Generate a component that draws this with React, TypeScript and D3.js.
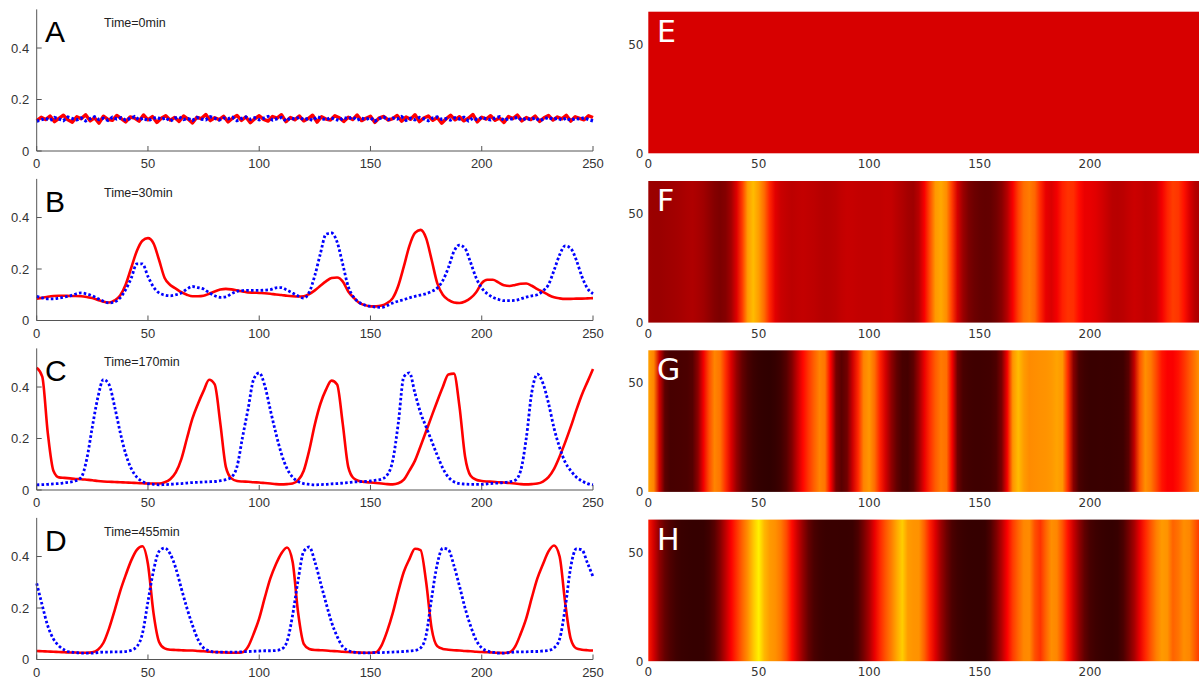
import React from 'react';
import * as d3 from 'd3';

// ---------- DATA ----------
const gridX = d3.range(0, 250.001, 2.5); // sample positions (101)
const noiseX = d3.range(0, 250.001, 2); // sample positions for t=0 (126)

const redA = [.118,.131,.122,.136,.114,.127,.139,.121,.112,.133,.125,.141,.117,.129,.108,.135,.123,.119,.138,.126,
.113,.132,.128,.116,.140,.121,.134,.111,.127,.137,.120,.130,.115,.136,.124,.109,.131,.126,.142,.118,
.129,.122,.135,.113,.127,.138,.119,.132,.110,.125,.137,.123,.116,.134,.128,.141,.114,.130,.121,.136,
.117,.126,.139,.112,.133,.124,.120,.137,.129,.115,.131,.122,.140,.118,.127,.135,.111,.129,.134,.120,
.126,.138,.116,.132,.123,.141,.114,.128,.136,.119,.130,.108,.125,.139,.121,.133,.117,.127,.142,.113,
.131,.124,.137,.119,.128,.111,.134,.126,.140,.117,.130,.122,.136,.115,.129,.138,.120,.132,.125,.139,
.116,.133,.127,.121,.137,.130];

const blueA = [.116,.121,.127,.119,.130,.124,.118,.132,.126,.121,.128,.117,.125,.133,.122,.127,.119,.131,.124,.129,
.120,.126,.134,.121,.128,.118,.125,.131,.123,.129,.116,.127,.132,.122,.126,.119,.130,.124,.121,.133,
.127,.120,.128,.125,.131,.118,.126,.132,.123,.129,.121,.127,.134,.120,.125,.130,.117,.128,.124,.131,
.122,.126,.119,.133,.127,.121,.129,.124,.118,.130,.125,.132,.120,.127,.123,.129,.116,.126,.131,.122,
.128,.124,.133,.119,.127,.121,.130,.125,.118,.128,.132,.123,.126,.120,.129,.124,.131,.117,.127,.122,
.130,.125,.121,.128,.133,.119,.126,.124,.131,.120,.127,.122,.129,.118,.125,.130,.123,.127,.121,.128,
.119,.126,.124,.129,.122,.117];

const redB = [.085,.088,.092,.095,.096,.096,.095,.095,.094,.091,.087,.080,.073,.070,.078,.097,.140,.205,.270,.310,
.320,.300,.235,.165,.138,.124,.110,.100,.094,.094,.096,.104,.113,.120,.123,.121,.117,.113,.109,.108,
.107,.106,.104,.101,.099,.096,.094,.093,.094,.103,.117,.135,.152,.165,.167,.152,.113,.088,.068,.060,
.055,.055,.058,.068,.087,.135,.210,.290,.340,.352,.320,.235,.145,.100,.080,.070,.068,.074,.087,.110,
.145,.158,.158,.148,.137,.134,.138,.143,.144,.135,.122,.111,.099,.090,.086,.084,.084,.085,.085,.086,
.087];

const blueB = [.094,.088,.084,.084,.087,.091,.096,.103,.107,.103,.096,.085,.075,.068,.072,.088,.120,.165,.220,.220,
.171,.130,.107,.099,.096,.100,.107,.122,.132,.128,.122,.108,.096,.090,.092,.104,.113,.116,.117,.117,
.117,.118,.120,.127,.128,.118,.107,.095,.087,.110,.175,.260,.335,.340,.305,.220,.132,.090,.070,.060,
.055,.052,.051,.058,.068,.075,.081,.088,.094,.099,.104,.113,.126,.155,.205,.268,.293,.280,.225,.165,
.126,.104,.090,.082,.077,.077,.078,.084,.091,.096,.100,.115,.139,.195,.255,.290,.280,.235,.171,.125,
.104];

const redC = [.475,.440,.220,.075,.049,.047,.045,.043,.042,.040,.038,.035,.033,.032,.031,.030,.029,.028,.027,.026,
.025,.025,.025,.030,.042,.068,.120,.200,.278,.335,.385,.428,.410,.260,.090,.045,.035,.033,.032,.030,
.029,.027,.025,.023,.022,.023,.025,.038,.075,.155,.255,.335,.390,.425,.410,.260,.090,.045,.035,.031,
.029,.027,.025,.023,.022,.026,.040,.075,.114,.170,.228,.287,.345,.400,.449,.452,.324,.130,.055,.040,
.035,.033,.032,.030,.029,.027,.025,.023,.022,.023,.025,.033,.050,.082,.130,.185,.245,.310,.370,.420,
.470];

const blueC = [.020,.021,.022,.024,.025,.028,.031,.036,.049,.120,.245,.360,.429,.410,.325,.225,.140,.083,.050,.033,
.025,.022,.020,.021,.022,.024,.025,.027,.029,.030,.031,.032,.033,.036,.040,.050,.090,.205,.315,.430,
.455,.405,.311,.220,.140,.083,.050,.033,.025,.022,.020,.021,.022,.024,.025,.027,.029,.031,.032,.033,
.035,.038,.042,.058,.114,.260,.440,.455,.376,.300,.245,.190,.135,.085,.050,.032,.025,.023,.022,.022,
.022,.024,.026,.027,.029,.032,.038,.075,.200,.380,.450,.415,.337,.240,.165,.108,.075,.050,.035,.025,
.020];

const redD = [.033,.032,.031,.030,.029,.028,.027,.027,.026,.026,.028,.038,.065,.120,.190,.265,.328,.385,.426,.440,
.370,.180,.068,.043,.038,.037,.036,.035,.035,.033,.032,.030,.029,.028,.027,.026,.026,.028,.050,.100,
.160,.240,.315,.370,.413,.435,.380,.180,.061,.041,.037,.036,.035,.033,.032,.030,.029,.028,.027,.026,
.026,.028,.055,.110,.180,.265,.341,.390,.430,.425,.302,.120,.052,.041,.038,.036,.035,.033,.032,.030,
.029,.028,.027,.026,.025,.028,.050,.100,.160,.240,.315,.370,.420,.443,.400,.220,.080,.043,.038,.036,
.035];

const blueD = [.296,.210,.130,.080,.053,.037,.029,.027,.025,.025,.025,.027,.029,.029,.030,.030,.031,.036,.050,.100,
.225,.345,.420,.433,.410,.355,.276,.200,.133,.077,.045,.034,.029,.029,.029,.029,.029,.030,.031,.032,
.033,.034,.034,.035,.040,.070,.172,.310,.420,.437,.380,.300,.220,.145,.090,.050,.035,.029,.026,.026,
.026,.027,.027,.028,.029,.030,.031,.033,.035,.045,.094,.240,.370,.432,.426,.365,.285,.200,.130,.075,
.045,.033,.028,.025,.025,.027,.029,.030,.030,.031,.031,.033,.035,.045,.080,.200,.360,.430,.426,.375,
.322];

// Uniform initial state in the heat map (t = 0)
const heatELevel = [0.25, 0.25];
const heatELevelX = [0, 250];

const letters = ['A', 'B', 'C', 'D'];
const heatLetters = ['E', 'F', 'G', 'H'];
const timeLabels = ['Time=0min', 'Time=30min', 'Time=170min', 'Time=455min'];
const xTicks = [0, 50, 100, 150, 200, 250];
const yTicks = [0, 0.2, 0.4];
const heatXTicks = [0, 50, 100, 150, 200];
const heatYTicks = [0, 50];

// ---------- LAYOUT ----------
const W = 1199, H = 679;
const LX0 = 36.7, LX1 = 593;
const PANEL_STEP = 169.5;
const AXIS0 = 151;
const PLOT_H = 141.6;
const HX0 = 648.3, HX1 = 1200.5;
const HEAT_TOP0 = 11.7, HEAT_STEP = 169.3;

const VMAX = 0.82;
const hot = d3.scaleLinear<string>()
  .domain([0, 0.365 * VMAX, 0.746 * VMAX, VMAX])
  .range(['#0b0000', '#ff0000', '#ffff00', '#ffffff'])
  .clamp(true);

const lineFont = '"Liberation Sans", Arial, sans-serif';
const heatFont = '"DejaVu Sans", sans-serif';

type Series = { xs: number[]; ys: number[] };

const panels: { red: Series; blue: Series; noisy: boolean }[] = [
  { red: { xs: noiseX, ys: redA }, blue: { xs: noiseX, ys: blueA }, noisy: true },
  { red: { xs: gridX, ys: redB }, blue: { xs: gridX, ys: blueB }, noisy: false },
  { red: { xs: gridX, ys: redC }, blue: { xs: gridX, ys: blueC }, noisy: false },
  { red: { xs: gridX, ys: redD }, blue: { xs: gridX, ys: blueD }, noisy: false },
];

const heatData: { x: number; v: number }[][] = [
  heatELevelX.map((x, i) => ({ x, v: heatELevel[i] })),
  gridX.map((x, i) => ({ x, v: redB[i] + blueB[i] })),
  gridX.map((x, i) => ({ x, v: redC[i] + blueC[i] })),
  gridX.map((x, i) => ({ x, v: redD[i] + blueD[i] })),
];

function LinePanel({ idx }: { idx: number }) {
  const axisY = AXIS0 + PANEL_STEP * idx;
  const x = d3.scaleLinear().domain([0, 250]).range([LX0, LX1]);
  const y = d3.scaleLinear().domain([0, 0.55]).range([axisY, axisY - PLOT_H]);
  const p = panels[idx];
  const mk = (s: Series) =>
    d3.line<number>()
      .x((_, i) => x(s.xs[i]))
      .y((d) => y(d))
      .curve(p.noisy ? d3.curveLinear : d3.curveMonotoneX)(s.ys) || '';
  const axisColor = '#555';
  return (
    <g>
      <path d={mk(p.red)} fill="none" stroke="#ff0000" strokeWidth={p.noisy ? 3.4 : 2.6} strokeLinejoin="round" />
      <path d={mk(p.blue)} fill="none" stroke="#0000ff" strokeWidth={p.noisy ? 3.2 : 2.8} strokeDasharray="2.6 2.2" />
      {/* axes */}
      <line x1={x(0)} x2={x(250)} y1={axisY} y2={axisY} stroke={axisColor} strokeWidth={1} />
      <line x1={x(0)} x2={x(0)} y1={axisY} y2={y(0.55)} stroke={axisColor} strokeWidth={1} />
      {xTicks.map((t) => (
        <g key={'xt' + t}>
          <line x1={x(t)} x2={x(t)} y1={axisY} y2={axisY - 5} stroke={axisColor} />
          <text x={x(t)} y={axisY + 17} textAnchor="middle" fontSize={13} fontFamily={lineFont} fill="#333">{t}</text>
        </g>
      ))}
      {yTicks.map((t) => (
        <g key={'yt' + t}>
          <line x1={x(0)} x2={x(0) + 5} y1={y(t)} y2={y(t)} stroke={axisColor} />
          <text x={LX0 - 7.5} y={y(t) + 4.5} textAnchor="end" fontSize={13} fontFamily={lineFont} fill="#333">{t}</text>
        </g>
      ))}
      <text x={45} y={axisY - 109} fontSize={30} fontFamily={lineFont} fill="#000">{letters[idx]}</text>
      <text x={104} y={axisY - 124} fontSize={12.5} fontFamily={lineFont} fill="#222">{timeLabels[idx]}</text>
    </g>
  );
}

function HeatPanel({ idx }: { idx: number }) {
  const top = HEAT_TOP0 + HEAT_STEP * idx;
  const bottom = top + PLOT_H;
  const x = d3.scaleLinear().domain([0, 250]).range([HX0, HX1]);
  const y = d3.scaleLinear().domain([0, 65]).range([bottom, top]);
  const data = heatData[idx];
  const gid = 'heatgrad' + idx;
  return (
    <g>
      <defs>
        <linearGradient id={gid} gradientUnits="userSpaceOnUse" x1={x(0)} x2={x(250)} y1={0} y2={0}>
          {data.map((d, i) => (
            <stop key={i} offset={(d.x / 250).toFixed(4)} stopColor={hot(d.v)} />
          ))}
        </linearGradient>
      </defs>
      <rect x={x(0)} y={y(65)} width={x(250) - x(0)} height={y(0) - y(65)} fill={`url(#${gid})`} />
      {heatXTicks.map((t) => (
        <text key={'hx' + t} x={x(t)} y={bottom + 15} textAnchor="middle" fontSize={12} fontFamily={heatFont} fill="#333">{t}</text>
      ))}
      {heatYTicks.map((t) => (
        <text key={'hy' + t} x={643.5} y={y(t) + 4.3} textAnchor="end" fontSize={12} fontFamily={heatFont} fill="#333">{t}</text>
      ))}
      <text x={657} y={top + 30} fontSize={30} fontFamily={heatFont} fill="#fff">{heatLetters[idx]}</text>
    </g>
  );
}

export default function App() {
  return (
    <svg
      width={W}
      height={H}
      viewBox={`0 0 ${W} ${H}`}
      style={{ position: 'absolute', left: 0, top: 0, display: 'block', background: '#fff' }}
    >
      <rect x={0} y={0} width={W} height={H} fill="#fff" />
      {[0, 1, 2, 3].map((i) => <LinePanel key={'l' + i} idx={i} />)}
      {[0, 1, 2, 3].map((i) => <HeatPanel key={'h' + i} idx={i} />)}
    </svg>
  );
}
